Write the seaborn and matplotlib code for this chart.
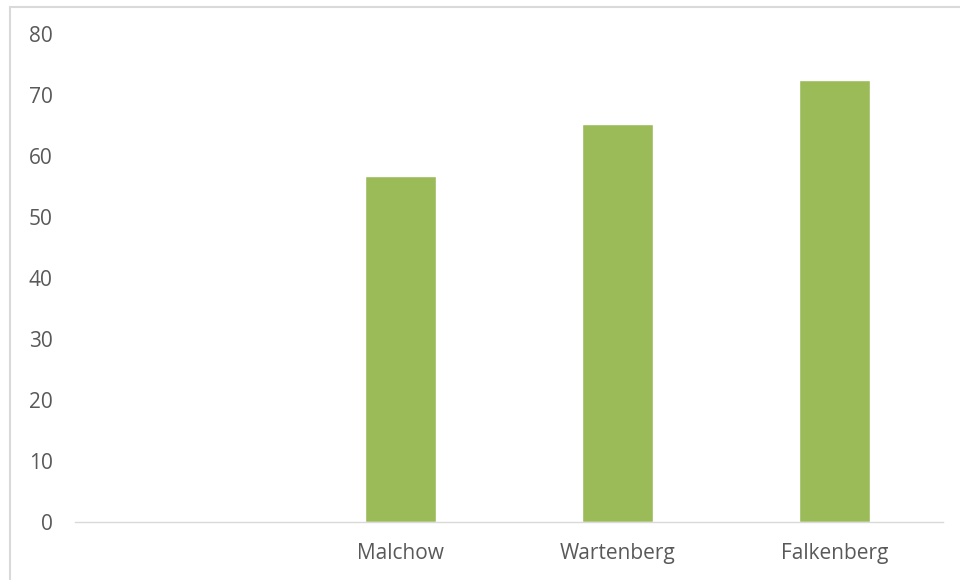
import matplotlib
matplotlib.use("Agg")
import matplotlib.pyplot as plt
import seaborn as sns
import numpy as np
import pandas as pd
from matplotlib.lines import Line2D

# chart data
categories = ["", "Malchow", "Wartenberg", "Falkenberg"]
values = [np.nan, 56.7, 65.2, 72.5]
y_ticks = [0, 10, 20, 30, 40, 50, 60, 70, 80]

bar_color = "#9BBB59"
text_color = "#595959"

df = pd.DataFrame({"place": categories, "value": values})

sns.set_style("white")
plt.rcParams["font.family"] = ["Open Sans", "DejaVu Sans"]

fig = plt.figure(figsize=(9.6, 5.8), dpi=100)
ax = fig.add_axes([75 / 960, 1 - 522 / 580, 868 / 960, 488 / 580])

sns.barplot(data=df, x="place", y="value", order=categories,
            color=bar_color, saturation=1, width=0.325, ax=ax)

ax.set_xlim(-0.5, len(categories) - 0.5)
ax.set_ylim(0, 80)
ax.set_yticks(y_ticks)
ax.set_xlabel("")
ax.set_ylabel("")

for side in ["top", "right", "left"]:
    ax.spines[side].set_visible(False)
ax.spines["bottom"].set_color("#D9D9D9")
ax.spines["bottom"].set_linewidth(1)

ax.tick_params(axis="both", length=0, labelsize=15, colors=text_color)
ax.tick_params(axis="y", pad=16)
ax.tick_params(axis="x", pad=15)

# outer chart frame (left and top edges visible)
fig.add_artist(Line2D([10 / 960, 10 / 960], [0, 1 - 7 / 580],
                      transform=fig.transFigure, color="#D9D9D9", lw=1.5))
fig.add_artist(Line2D([10 / 960, 1], [1 - 7 / 580, 1 - 7 / 580],
                      transform=fig.transFigure, color="#D9D9D9", lw=1.5))

fig.savefig("out.png", dpi=100)
